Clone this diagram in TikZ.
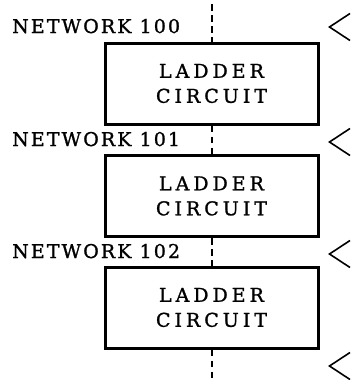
\documentclass[tikz,border=0pt]{standalone}
\usepackage{fontspec}
\setmainfont{DejaVu Serif}
\newfontfamily\labelfont[LetterSpace=11,FakeBold=1.2]{DejaVu Serif}
\newfontfamily\boxfont[LetterSpace=21,FakeBold=1.2]{DejaVu Serif}
\begin{document}
\begin{tikzpicture}[x=1pt,y=-1pt,
  lbl/.style={anchor=base west,inner sep=0pt,font=\labelfont\fontsize{19}{22}\selectfont},
  ladderbox/.style={draw,line width=3pt,minimum width=213pt,minimum height=81pt,
    inner sep=0pt,align=center,font=\boxfont\fontsize{19}{25}\selectfont},
  flow/.style={line width=2.4pt,dash pattern=on 6.5pt off 4.5pt},
  chevron/.style={line width=1.6pt,line join=miter}]
\useasboundingbox (0,0) rectangle (353,380);

% network labels
\node[lbl] (n100) at (12,33) {NETWORK 100};
\node[lbl] (n101) at (12,146) {NETWORK 101};
\node[lbl] (n102) at (12,258) {NETWORK 102};

% ladder circuit blocks
\node[ladderbox] (b1) at (211.5,83.5) {LADDER\\CIRCUIT};
\node[ladderbox] (b2) at (211.5,196) {LADDER\\CIRCUIT};
\node[ladderbox] (b3) at (211.5,307.5) {LADDER\\CIRCUIT};

% program flow line
\coordinate (top) at (212,4);
\coordinate (bot) at (212,381);
\draw[flow] (top) -- (b1.north -| top);
\draw[flow] (b1.south -| top) -- (b2.north -| top);
\draw[flow] (b2.south -| top) -- (b3.north -| top);
\draw[flow] (b3.south -| top) -- (bot);

% margin marks
\foreach \y in {27,142,254,366}
  \draw[chevron] (350,\y-13.5) -- (329.5,\y) -- (350,\y+13.5);
\end{tikzpicture}
\end{document}
